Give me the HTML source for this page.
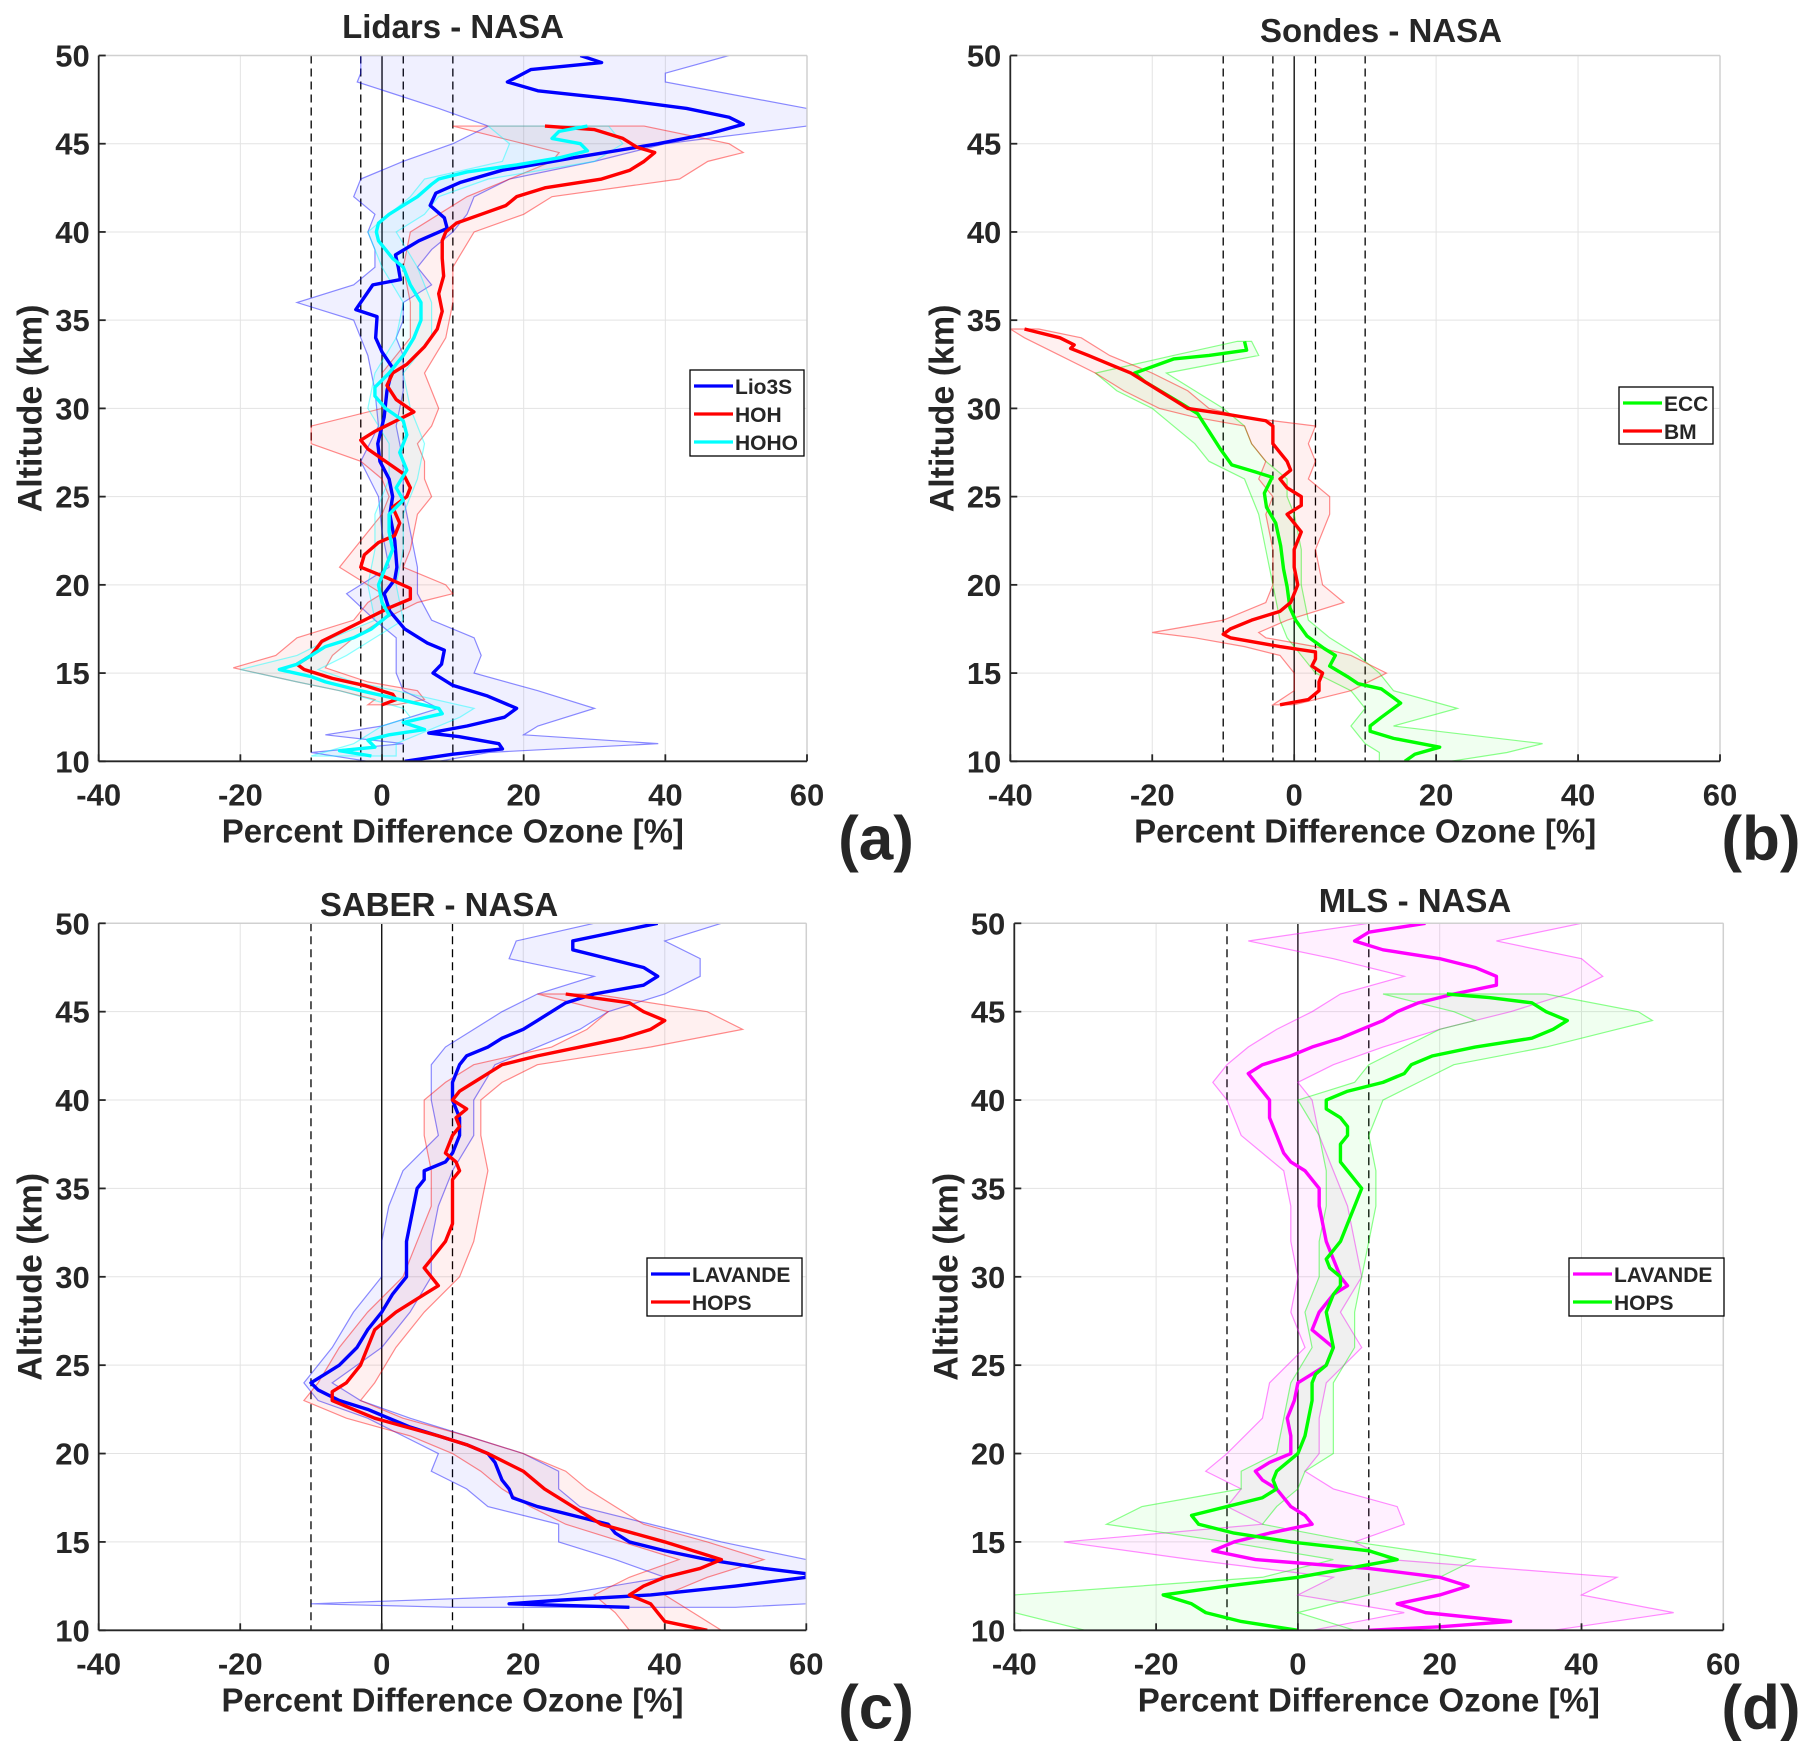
<!DOCTYPE html>
<html><head><meta charset="utf-8"><style>
body{margin:0;background:#fff}
svg{display:block}
text{font-family:"Liberation Sans",Arial,sans-serif;font-weight:bold;fill:#262626}
</style></head><body>
<svg id="fig" width="1804" height="1741" viewBox="0 0 1804 1741" xmlns="http://www.w3.org/2000/svg"></svg>
<script>
// ---- Panel (a) Lidars - NASA ----
const aLioAlt=[50,49.6,49.2,48.5,48,47.5,47,46.5,46.1,45.6,45,44.2,43.5,42.8,42.2,41.5,40.8,40.2,39.5,38.7,38,37.3,37,36.3,35.6,35.2,34,33.2,32.3,31,29.5,28,27,26,25,24,22.5,21,20.3,19.5,18.5,17.5,16.7,16.3,15.5,15,14.3,13.7,13,12.5,12,11.6,11.4,11,10.7,10.4,10];
const aLioVal=[28,31,21,17.7,22,33.5,43,49,51,46.5,39,27,17,11,7.6,6.8,8.8,9.2,5.2,1.9,2.3,2.6,-1.3,-2.5,-3.7,-0.7,-0.9,0,1.5,0.7,0.3,-0.6,-0.3,1,1.5,1.1,1.8,2.1,1.8,0.3,1.1,3.2,6.4,8.8,8.4,7.2,10,14.9,19,17.3,12,6.6,10.8,16.5,17,10,3.2];
const aLioBandAlt=[50,49,48.5,47,46,45,44,43,42,41,40,39,38,37,36,35,34,33,31,29,27,25,23,21,19.5,18,17,16,15,14,13,12,11.5,11,10.5,10];
const aLioLo=[-3,-3,-3.5,8,15,10,3,-3,-4,-1,-2,-1,-1,-4,-12,-4,-3,-2,-1,-0.5,-3,-0.5,0,1,-5,-1,2,2,2,3,8,0,-8,3,-10,-2];
const aLioHi=[49,40,40,60,60,40,30,18,13,12,10,7,5,7,3,3,2,3,3,2,3,3,4,5,5,7,13,14,13,22,30,22,20,39,15,8];
const aHohAlt=[46,45.8,45.3,44.8,44.5,44,43.5,43,42.5,42,41.5,41,40.5,40,39.5,38.5,37.5,36.5,35.5,34.5,33.5,32.5,32,31.3,30.5,29.8,29.3,28.7,28.2,27.7,27,26.3,25.5,25,24.4,23.5,22.8,22.4,21.7,21,20.4,19.8,19.2,18.7,18,17.3,16.8,16,15.5,15.2,14.7,14.3,13.8,13.5,13.2];
const aHohVal=[23,30,34,36,38.5,37,35,31,23,19,17.5,14,10.5,9,8.5,8.5,8.7,8,8.5,7.8,6,3.5,1.5,0.7,2,4.5,2,-1,-3,-2,0.5,3,4,3.5,1.5,2.5,1.8,-0.5,-2.5,-3,0.7,4,4,1,-2.5,-6,-8.5,-10,-12,-11,-7,-2.5,1.5,2,0];
const aHohBandAlt=[46,45,44.5,44,43,42,41,40,38,36,34,32,30,29,28,27,26,25,24,22,21,20,19.5,19,18,17,16,15.3,14.5,14,13.5,13.2];
const aHohLo=[10,20,25,24,18,12,8,4,3,4,4,0,0,-10,-10,-3,0,1,0,-4,-6,-2,0,-2,-4,-12,-15,-21,-12,-6,-1,-2];
const aHohHi=[37,49,51,46,42,24,20,13,10,10,9,6,8,7,5,6,6,7,5,4,3,9,10,5,0,-4,-7,-8,-2,5,6,2];
const aHohoAlt=[46,45.7,45.3,45,44.6,44.2,43.8,43.4,43,42.7,42,41.5,41,40.5,40,39.5,38.5,38,37,36,35,34,33,32,31.2,30.7,30,29.3,28.5,27.5,26.5,25.5,24.8,24,23,22,21,20,19,18.3,17.5,17,16.5,16,15.5,15.2,14.8,14.5,14,13.5,13,12.7,12.2,11.8,11.5,11.2,10.8,10.6,10.3];
const aHohoVal=[29,25,24,28,29,25,19,12,8,7,5,3,1,-0.5,-0.8,-0.5,1.5,3,4,5.5,5.5,4.5,3,1,-1,-1,0.5,3,3.5,2.5,3.5,2,3,1,1,1.5,0.5,-0.5,0,1,-1.5,-4,-8,-10,-12,-14.5,-10,-8,-3,2.5,8,8.5,3,6,1,-2,-1,-6,-1.5];
const aHohoBandAlt=[46,45,44,43,42,41,40,38,36,34,32,30,28,26,24,22,20,18,17,16,15.2,14.5,14,13,12.5,12,11,10.3];
const aHohoLo=[15,18,17,6,4,1,-2,0,3,2,-1,-2,1,1,-1,-1,-2,-1,-7,-12,-20,-12,-6,3,4,0,-4,-10];
const aHohoHi=[32,34,30,15,8,6,2,5,7,7,3,4,6,5,3,3,2,3,-1,-5,-9,-4,2,13,11,8,2,2];
// ---- Panel (b) Sondes - NASA ----
const bEccAlt=[33.8,33.3,33.0,32.8,32.0,31.5,30.9,30.3,29.7,28.7,27.7,26.8,26.4,26.1,25.2,24.4,23.5,22.2,20.9,19.9,18.7,18,17.1,16.4,16,15.4,14.8,14.4,14.1,13.6,13.3,12.5,12,11.7,11.3,10.8,10.4,10];
const bEccVal=[-7,-6.7,-12,-17,-22.5,-21,-18.5,-16,-13.6,-12,-10.4,-8.8,-5.5,-3.1,-4.2,-3.9,-2.6,-1.9,-1.5,-1,-0.6,0.2,1.8,4.2,5.8,5,7.5,9,12.3,14,15,12.3,10.7,10.7,14,20.5,17,15.6];
const bEccBandAlt=[33.8,33,32,31,30,29,28,27,26,25,24,22,20,18,17,16,15,14,13,12,11,10.5,10];
const bEccLo=[-8,-17,-28,-25,-20,-17,-14,-12,-7,-6,-5,-4,-3,-2,-1,1,3,8,10,8,10,12,12];
const bEccHi=[-6,-5,-18,-14,-10,-7,-6,-4,-1,-1,0,1,1,2,5,9,12,14,23,14,35,30,22];
const bBmAlt=[34.5,34,33.6,33.4,33,32.5,32,31.5,31,30.5,30,29.7,29.3,29,28.5,28,27.5,27,26.5,26,25.5,25,24.5,24,23.5,23,22,21,20,19,18.5,18,17.5,17.2,17,16.5,16.2,15.8,15.4,15,14.5,14,13.5,13.2];
const bBmVal=[-38,-33,-31,-31.5,-29,-26,-23,-21,-19,-17,-15,-10,-4,-3,-3,-3,-2,-1,-0.5,-2,-1,1,1,-1,0,1,0,0,0.5,-0.5,-2,-6,-9,-10,-9,-2,3,3,2.5,4,3.5,3.5,2,-2];
const bBmBandAlt=[34.5,34,33,32,31,30,29.5,29,28,27,26,25,24,22,20,19,18,17.3,17,16.5,16,15,14,13.2];
const bBmLo=[-40,-38,-33,-28,-24,-19,-14,-7,-6,-4,-5,-3,-4,-3,-3,-4,-10,-20,-14,-7,-2,0,0,-3];
const bBmHi=[-36,-30,-26,-20,-15,-12,-7,3,2,3,2,5,5,3,4,7,-1,-5,-4,3,8,13,8,0];
// ---- Panel (c) SABER - NASA ----
const cLavAlt=[50,49.5,49,48.5,48,47.5,47,46.5,46,45.5,45,44.5,44,43.5,43,42.5,42,41,40,39,38,37,36.5,36,35.5,35,34,33,32,31,30,29,28,27,26,25,24.5,24,23.6,23,22.5,22,21.5,21,20.5,20,19.5,19,18.5,18,17.5,17,16.5,16,15.5,15,14.5,14,13.5,13.2,13,12.5,12,11.7,11.5,11.3];
const cLavVal=[39,33,27,27,32,37,39,37,30,26,24,22,20,17,15,12,11,10,10,11,11,10,9,6,6,5,4.5,4,3.5,3.5,3.5,1.5,0,-2,-3.5,-6,-8,-10,-9,-6,-2,1,4,8,12,15,16,16.5,17,18,18.5,22,27,32,33,35,40,46,54,60,60,50,38,25,18,35];
const cLavBandAlt=[50,49,48,47,46,45,44,43,42,40,38,36,34,32,30,28,26,24,23,22,21,20,19,18,17,16,15,14,13,12,11.5,11.3];
const cLavLo=[30,19,18,30,22,17,13,9,7,7,8,3,1,0,0,-4,-7,-11,-9,-2,3,8,7,12,15,25,25,33,40,25,-10,10];
const cLavHi=[48,40,45,45,40,32,28,22,16,13,13,10,8,7,7,4,0,-7,-3,4,12,20,25,25,28,38,48,60,60,60,60,50];
const cHopsAlt=[46,45.5,45,44.5,44,43.5,43,42.5,42,41.5,41,40.5,40,39.5,39,38.5,38,37,36.5,36,35.5,35,34,33,32,31,30.5,30,29.5,29,28,27,26,25,24,23.5,23,22,21,20.5,20,19,18,17,16,15,14,13.5,13,12.5,12,11.5,11,10.5,10];
const cHopsVal=[26,35,37,40,38,34,28,22,17,15,13,11,10,12,10.5,11,10,9,10.5,11,10,10,10,10,9,7,6,7,8,6,2,-1,-2,-3,-5,-7,-7,-1,8,12,15,20,23,27,31,40,48,45,40,37,35,38,39,40,46];
const cHopsBandAlt=[46,45,44,43,42,41,40,38,36,34,32,30,28,26,24,23,22,21,20,19,18,17,16,15,14,13,12,11,10];
const cHopsLo=[22,32,29,24,13,9,6,6,7,7,5,3,-2,-6,-9,-11,-5,4,10,14,17,21,26,34,42,35,30,33,35];
const cHopsHi=[30,46,51,38,22,17,14,14,15,14,13,11,6,2,-1,-3,3,12,20,26,29,33,37,46,54,46,40,44,48];
// ---- Panel (d) MLS - NASA ----
const dLavAlt=[50,49.5,49,48.5,48,47.5,47,46.5,46,45.5,45,44.5,44,43.5,43,42.5,42,41.5,41,40.5,40,39,38,37,36.5,36,35,34,33,32,31,30,29.5,29,28,27,26,25,24.5,24,23,22,21,20,19.5,19,18.5,18,17,16.5,16,15.5,15,14.5,14,13.5,13,12.5,12,11.5,11,10.5,10.2,10];
const dLavVal=[18,10,8,12,20,25,28,28,22,17,14,12,9,6,2,-1,-5,-7,-6,-5,-4,-4,-3,-2,-1,1,3,3,3.5,4,5,6,7,5,3,2,5,4,2,0,-0.5,-1.5,-1,-1,-4,-6,-5,-3,-1,1,2,-4,-9,-12,-6,10,20,24,20,14,18,30,20,10];
const dLavBandAlt=[50,49,48,47,46,45,44,43,42,41,40,38,36,34,32,30,28,26,24,22,20,19,18,17,16,15,14,13,12,11,10];
const dLavLo=[10,-7,5,15,6,2,-3,-7,-10,-12,-10,-8,-2,-1,-1,0,-1,1,-4,-5,-10,-13,-8,-10,-5,-33,-15,5,0,15,2];
const dLavHi=[40,28,40,43,38,30,20,12,5,0,2,3,5,7,8,9,6,9,4,3,3,1,5,14,15,8,13,45,40,53,36];
const dHopsAlt=[46,45.8,45.5,45,44.5,44,43.5,43,42.5,42,41.5,41,40.5,40,39.5,39,38.5,38,37.5,37,36.5,36,35.5,35,34.5,34,33,32,31.5,31,30.5,30,29.5,29,28,27,26,25,24.5,24,23,22,21,20,19,18.5,18,17.5,17,16.5,16,15.5,15,14.5,14,13.5,13,12.5,12,11.5,11,10.5,10];
const dHopsVal=[21,27,33,35,38,36,33,25,19,16,15,12,7,4,4,6,7,7,6,6,6,7,8,9,8.5,8,7,6,5,4,4.5,6,6,5,4,4.5,5,4,2.5,2,2,1.5,1,0,-3,-3.5,-3,-5,-10,-15,-14,-9,-1,10,14,7,0,-10,-19,-15,-13,-8,0];
const dHopsBandAlt=[46,45,44.5,44,43,42,41,40,38,36,34,32,30,28,26,24,22,20,19,18,17,16,15,14,13,12,11,10];
const dHopsLo=[12,22,25,20,15,10,8,0,3,4,4,3,3,1,2,-1,-2,-3,-8,-8,-22,-27,-10,5,-5,-40,-40,-30];
const dHopsHi=[35,48,50,45,35,22,17,12,10,11,11,10,9,8,8,5,5,5,1,0,-3,-5,8,25,20,10,0,8];
const xTicks=[-40,-20,0,20,40,60];
const yTicks=[10,15,20,25,30,35,40,45,50];
const legendA=["Lio3S","HOH","HOHO"];
const legendB=["ECC","BM"];
const legendC=["LAVANDE","HOPS"];
const legendD=["LAVANDE","HOPS"];

const NS="http://www.w3.org/2000/svg";
const svg=document.getElementById('fig');
function mk(tag,attrs,parent){const e=document.createElementNS(NS,tag);for(const k in attrs)e.setAttribute(k,attrs[k]);(parent||svg).appendChild(e);return e;}

function panel(p){
  const g=mk('g',{});
  
  
  const X=v=>p.x0+(v+40)/100*(p.x1-p.x0);
  const Y=a=>p.y1-(a-10)/40*(p.y1-p.y0);
  const clipId='clip-'+p.id;
  const cp=mk('clipPath',{id:clipId},g);
  mk('rect',{x:p.x0,y:p.y0,width:p.x1-p.x0,height:p.y1-p.y0},cp);
  const grid=mk('g',{stroke:'#e3e3e3','stroke-width':1},g);
  
  
  xTicks.forEach(t=>mk('line',{x1:X(t),x2:X(t),y1:p.y0,y2:p.y1},grid));
  yTicks.forEach(t=>mk('line',{x1:p.x0,x2:p.x1,y1:Y(t),y2:Y(t)},grid));
  const ref=mk('g',{stroke:'#000','stroke-width':1.3},g);
  
  
  mk('line',{x1:X(0),x2:X(0),y1:p.y0,y2:p.y1},ref);
  p.dash.forEach(d=>mk('line',{x1:X(d),x2:X(d),y1:p.y0,y2:p.y1,'stroke-dasharray':'8,5'},ref));
  const data=mk('g',{'clip-path':'url(#'+clipId+')'},g);
  p.series.forEach(s=>{
    const up=s.bAlt.map((a,i)=>X(s.hi[i])+','+Y(a));
    const lo=s.bAlt.map((a,i)=>X(s.lo[i])+','+Y(a)).reverse();
    const band=mk('polygon',{points:up.concat(lo).join(' '),fill:s.c,'fill-opacity':0.06,stroke:s.c,'stroke-opacity':0.45,'stroke-width':1.2},data);
    
    
  });
  p.series.forEach(s=>{
    const pts=s.alt.map((a,i)=>X(s.val[i])+','+Y(a)).join(' ');
    const ln=mk('polyline',{points:pts,fill:'none',stroke:s.c,'stroke-width':3.4,'stroke-linejoin':'round'},data);
    
    
  });
  mk('line',{x1:p.x0,x2:p.x1,y1:p.y0,y2:p.y0,stroke:'#d0d0d0','stroke-width':1.5},g);
  mk('line',{x1:p.x1,x2:p.x1,y1:p.y0,y2:p.y1,stroke:'#d0d0d0','stroke-width':1.5},g);
  const ax=mk('g',{stroke:'#262626','stroke-width':1.8},g);
  
  
  mk('line',{x1:p.x0,x2:p.x1,y1:p.y1,y2:p.y1},ax);
  mk('line',{x1:p.x0,x2:p.x0,y1:p.y0,y2:p.y1},ax);
  xTicks.forEach(t=>mk('line',{x1:X(t),x2:X(t),y1:p.y1,y2:p.y1-7},ax));
  yTicks.forEach(t=>mk('line',{x1:p.x0,x2:p.x0+7,y1:Y(t),y2:Y(t)},ax));
  xTicks.forEach(t=>{const e=mk('text',{x:X(t),y:p.y1+44,'text-anchor':'middle','font-size':31},g);e.textContent=t;
    });
  yTicks.forEach(t=>{const e=mk('text',{x:p.x0-9,y:Y(t)+11,'text-anchor':'end','font-size':31},g);e.textContent=t;
    });
  const tt=mk('text',{x:p.tx,y:p.ty,'text-anchor':'middle','font-size':33,fill:'#000'},g);tt.textContent=p.title;
  
  const xl=mk('text',{x:(p.x0+p.x1)/2,y:p.y1+81,'text-anchor':'middle','font-size':33},g);xl.textContent='Percent Difference Ozone [%]';
  
  const yl=mk('text',{x:0,y:0,'text-anchor':'middle','font-size':34,transform:'translate('+(p.x0-57)+','+((p.y0+p.y1)/2)+') rotate(-90)'},g);yl.textContent='Altitude (km)';
  
  const pl=mk('text',{x:p.lx,y:p.y1+98,'text-anchor':'middle','font-size':62,fill:'#000'},g);pl.textContent='('+p.id+')';
  
  const L=p.leg;
  const lg=mk('g',{},g);
  
  
  mk('rect',{x:L.x,y:L.y,width:L.w,height:L.h,fill:'#fff',stroke:'#000','stroke-width':1.3},lg);
  L.names.forEach((n,i)=>{
    const yy=L.y+16+i*28;
    const ent=mk('g',{},lg);
    
    
    mk('line',{x1:L.x+4,x2:L.x+43,y1:yy,y2:yy,stroke:p.series[i].c,'stroke-width':3.2},ent);
    const t=mk('text',{x:L.x+45,y:yy+8,'font-size':21,fill:'#000'},ent);t.textContent=n;
  });
}
panel({id:'a',x0:98.7,x1:807,y0:55.5,y1:761.3,title:'Lidars - NASA',tx:453,ty:38,lx:876,dash:[-10,-3,3,10],
  leg:{x:690,y:370,w:114,h:86,names:legendA},
  series:[{name:'Lio3S',c:'#0000ff',alt:aLioAlt,val:aLioVal,bAlt:aLioBandAlt,lo:aLioLo,hi:aLioHi},
          {name:'HOH',c:'#ff0000',alt:aHohAlt,val:aHohVal,bAlt:aHohBandAlt,lo:aHohLo,hi:aHohHi},
          {name:'HOHO',c:'#00ffff',alt:aHohoAlt,val:aHohoVal,bAlt:aHohoBandAlt,lo:aHohoLo,hi:aHohoHi}]});
panel({id:'b',x0:1010.3,x1:1720,y0:55.5,y1:761.3,title:'Sondes - NASA',tx:1381,ty:42,lx:1761,dash:[-10,-3,3,10],
  leg:{x:1619,y:387,w:94,h:57,names:legendB},
  series:[{name:'ECC',c:'#00ff00',alt:bEccAlt,val:bEccVal,bAlt:bEccBandAlt,lo:bEccLo,hi:bEccHi},
          {name:'BM',c:'#ff0000',alt:bBmAlt,val:bBmVal,bAlt:bBmBandAlt,lo:bBmLo,hi:bBmHi}]});
panel({id:'c',x0:98.7,x1:806.3,y0:923.3,y1:1630.3,title:'SABER - NASA',tx:439,ty:916,lx:876,dash:[-10,10],
  leg:{x:647,y:1258,w:155,h:58,names:legendC},
  series:[{name:'LAVANDE',c:'#0000ff',alt:cLavAlt,val:cLavVal,bAlt:cLavBandAlt,lo:cLavLo,hi:cLavHi},
          {name:'HOPS',c:'#ff0000',alt:cHopsAlt,val:cHopsVal,bAlt:cHopsBandAlt,lo:cHopsLo,hi:cHopsHi}]});
panel({id:'d',x0:1014.3,x1:1723.3,y0:923.3,y1:1630.3,title:'MLS - NASA',tx:1415,ty:912,lx:1761,dash:[-10,10],
  leg:{x:1569,y:1258,w:155,h:58,names:legendD},
  series:[{name:'LAVANDE',c:'#ff00ff',alt:dLavAlt,val:dLavVal,bAlt:dLavBandAlt,lo:dLavLo,hi:dLavHi},
          {name:'HOPS',c:'#00ff00',alt:dHopsAlt,val:dHopsVal,bAlt:dHopsBandAlt,lo:dHopsLo,hi:dHopsHi}]});
</script>
</body></html>
